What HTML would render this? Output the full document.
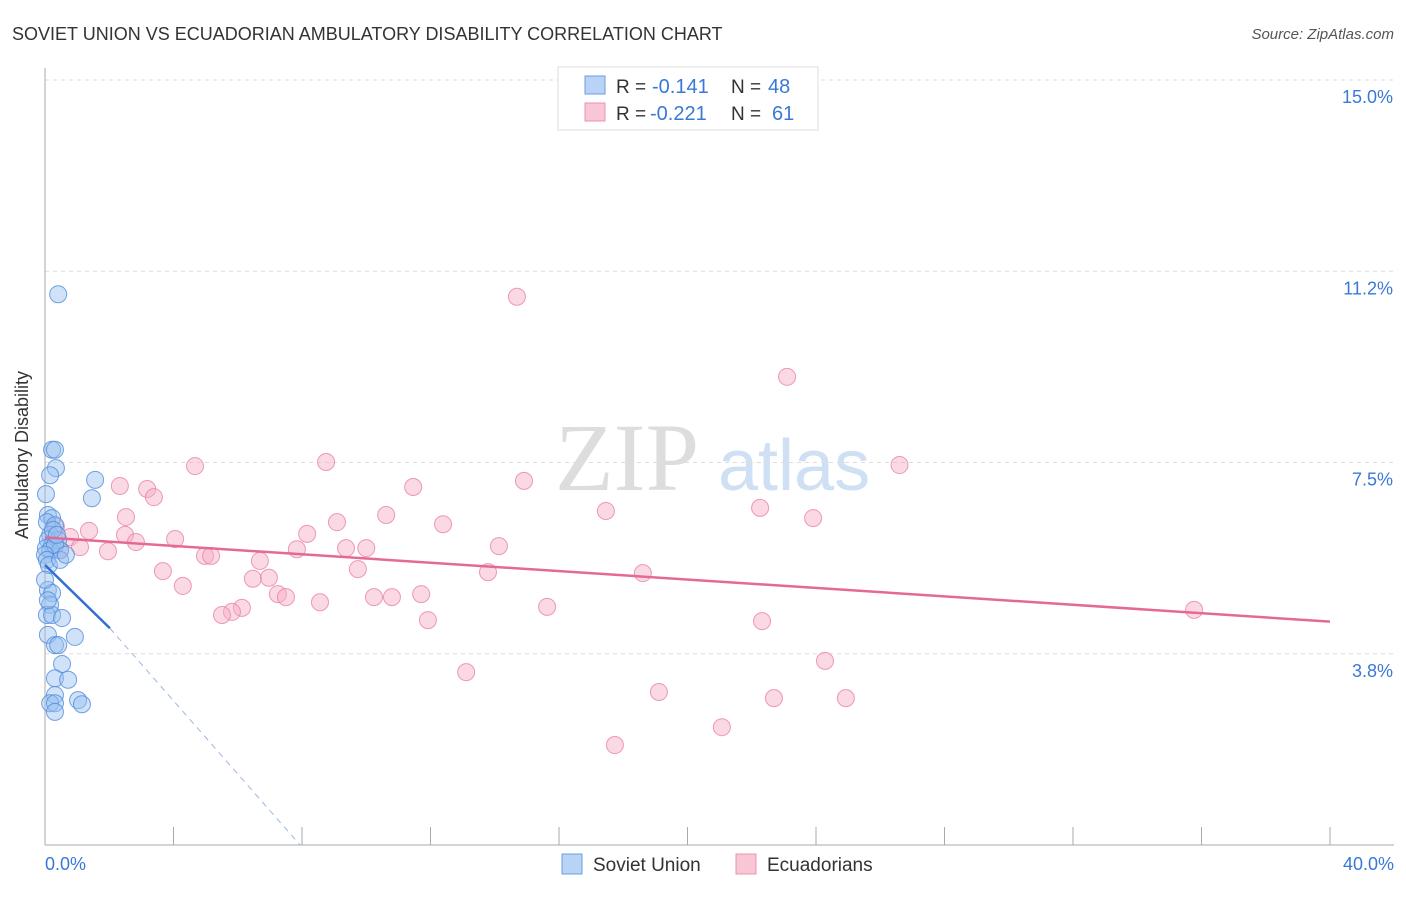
<!DOCTYPE html>
<html><head><meta charset="utf-8"><style>
body{margin:0;background:#fff;font-family:"Liberation Sans",sans-serif}
</style></head><body>
<svg width="1406" height="892" xmlns="http://www.w3.org/2000/svg" id="svg">
<text x="12" y="40" font-size="18" fill="#333">SOVIET UNION VS ECUADORIAN AMBULATORY DISABILITY CORRELATION CHART</text>
<text x="1394" y="39" font-size="15" fill="#555" text-anchor="end" font-style="italic">Source: ZipAtlas.com</text>
<text x="555" y="490" font-size="96" fill="#ddd" font-family="Liberation Serif">ZIP</text>
<text x="718" y="490" font-size="72" fill="#cfe0f4">atlas</text>
<g id="grid"></g>
<line x1="45" y1="68" x2="45" y2="845" stroke="#aaa"/>
<line x1="45" y1="845" x2="1394" y2="845" stroke="#aaa"/>
<text x="28" y="455" font-size="18" fill="#333" text-anchor="middle" transform="rotate(-90 28 455)">Ambulatory Disability</text>
<text x="45" y="870" font-size="18" fill="#3a78d8">0.0%</text>
<text x="1394" y="870" font-size="18" fill="#3a78d8" text-anchor="end">40.0%</text>
<g id="pts"></g>
<g id="lines"></g>
<g>
<rect x="558" y="67" width="260" height="63" fill="#fff" stroke="#ddd"/>
<rect x="585" y="76" width="20" height="18" fill="#b8d3f5" stroke="#6a9de0"/>
<rect x="585" y="103" width="20" height="18" fill="#f9c6d6" stroke="#ec93ae"/>
<text x="616" y="93" font-size="19" fill="#333">R =</text>
<text x="652" y="93" font-size="20" fill="#3a78d8">-0.141</text>
<text x="731" y="93" font-size="19" fill="#333">N =</text>
<text x="768" y="93" font-size="20" fill="#3a78d8">48</text>
<text x="616" y="120" font-size="19" fill="#333">R =</text>
<text x="650" y="120" font-size="20" fill="#3a78d8">-0.221</text>
<text x="731" y="120" font-size="19" fill="#333">N =</text>
<text x="772" y="120" font-size="20" fill="#3a78d8">61</text>
</g>
<g>
<rect x="562" y="854" width="20" height="20" fill="#b8d3f5" stroke="#6a9de0"/>
<text x="593" y="871" font-size="19" fill="#333">Soviet Union</text>
<rect x="736" y="854" width="20" height="20" fill="#f9c6d6" stroke="#ec93ae"/>
<text x="767" y="871" font-size="19" fill="#333">Ecuadorians</text>
</g>
</svg>
<script>
const yTicks=[3.75,7.5,11.25,15];
const yTickLabels=["3.8%","7.5%","11.2%","15.0%"];
const xTicks=[4,8,12,16,20,24,28,32,36,40];
const sovietX=[0.41,0.22,0.31,0.34,0.16,1.56,1.46,0.03,0.09,0.22,0.06,0.31,0.16,0.09,0.22,0.41,0.03,0.16,0.47,0.31,0,0.06,0.09,0.22,0.16,0.06,0.22,0.53,0.09,0.93,0.31,0.41,0.53,0.31,0.72,0.31,0.16,0.31,1.03,1.15,0.31,0.09,0.25,0.37,0.12,0,0.47,0.65];
const sovietY=[10.8,7.75,7.75,7.39,7.25,7.16,6.8,6.88,6.47,6.41,6.33,6.27,6.08,5.98,5.88,5.98,5.82,5.78,5.78,5.88,5.69,5.59,5.0,4.94,4.71,4.51,4.51,4.45,4.12,4.08,3.92,3.92,3.55,3.27,3.24,2.94,2.78,2.78,2.84,2.76,2.61,4.8,6.18,6.08,5.49,5.2,5.59,5.69];
const ecuX=[14.69,23.1,4.67,8.75,26.6,14.91,11.46,2.33,3.18,3.39,17.46,22.26,23.91,10.62,9.09,12.39,2.52,1.37,0.34,8.16,2.49,0.78,2.83,4.05,14.13,1.09,1.96,7.84,9.37,10,4.98,5.17,6.69,9.74,3.67,13.79,18.61,6.47,6.97,4.29,7.25,7.5,11.71,10.24,10.8,8.56,15.63,6.13,5.82,5.51,35.77,11.92,22.32,24.28,13.11,19.11,22.69,24.93,21.07,17.74,0.47];
const ecuY=[10.75,9.18,7.43,7.51,7.45,7.14,7.02,7.04,6.98,6.82,6.55,6.61,6.41,6.47,6.33,6.29,6.43,6.16,6.24,6.1,6.08,6.04,5.94,6.0,5.86,5.84,5.76,5.8,5.82,5.82,5.67,5.67,5.57,5.41,5.37,5.35,5.33,5.22,5.24,5.08,4.92,4.86,4.92,4.86,4.86,4.76,4.67,4.65,4.57,4.51,4.61,4.41,4.39,3.61,3.39,3.0,2.88,2.88,2.31,1.96,5.78];
const X=v=>45+v*32.125, Y=v=>80+(15-v)*51;
const NS="http://www.w3.org/2000/svg";
function mk(t,a,p){const e=document.createElementNS(NS,t);for(const k in a)e.setAttribute(k,a[k]);document.getElementById(p).appendChild(e);return e;}
yTicks.forEach((v,i)=>{
 let l=mk('line',{x1:45,x2:1394,y1:Y(v),y2:Y(v),stroke:'#ddd','stroke-dasharray':'4,4'},'grid');
 
 
 let t=mk('text',{x:1393,y:Y(v)+23,'font-size':18,fill:'#3a78d8','text-anchor':'end'},'grid');
 t.textContent=yTickLabels[i];
 
 
});
xTicks.forEach(v=>{
 let l=mk('line',{x1:X(v),x2:X(v),y1:827,y2:845,stroke:'#aaa'},'grid');
 
 
});
ecuX.forEach((v,i)=>{
 let c=mk('circle',{cx:X(v),cy:Y(ecuY[i]),r:8.5,fill:'rgba(246,170,195,0.45)',stroke:'rgba(232,130,165,0.8)','stroke-width':1},'pts');
 
 
});
sovietX.forEach((v,i)=>{
 let c=mk('circle',{cx:X(v),cy:Y(sovietY[i]),r:8.5,fill:'rgba(150,190,240,0.45)',stroke:'rgba(80,140,220,0.8)','stroke-width':1},'pts');
 
 
});
let a=mk('line',{x1:X(0),y1:Y(5.49),x2:X(2.02),y2:Y(4.25),stroke:'#2f6fd6','stroke-width':2.5},'lines');


let b=mk('line',{x1:X(2.02),y1:Y(4.25),x2:X(7.94),y2:Y(0),stroke:'#9ab8e0','stroke-width':1,'stroke-dasharray':'6,5'},'lines');


let c=mk('line',{x1:X(0),y1:Y(6.03),x2:X(40),y2:Y(4.38),stroke:'#e56a93','stroke-width':2.5},'lines');


</script>
</body></html>
